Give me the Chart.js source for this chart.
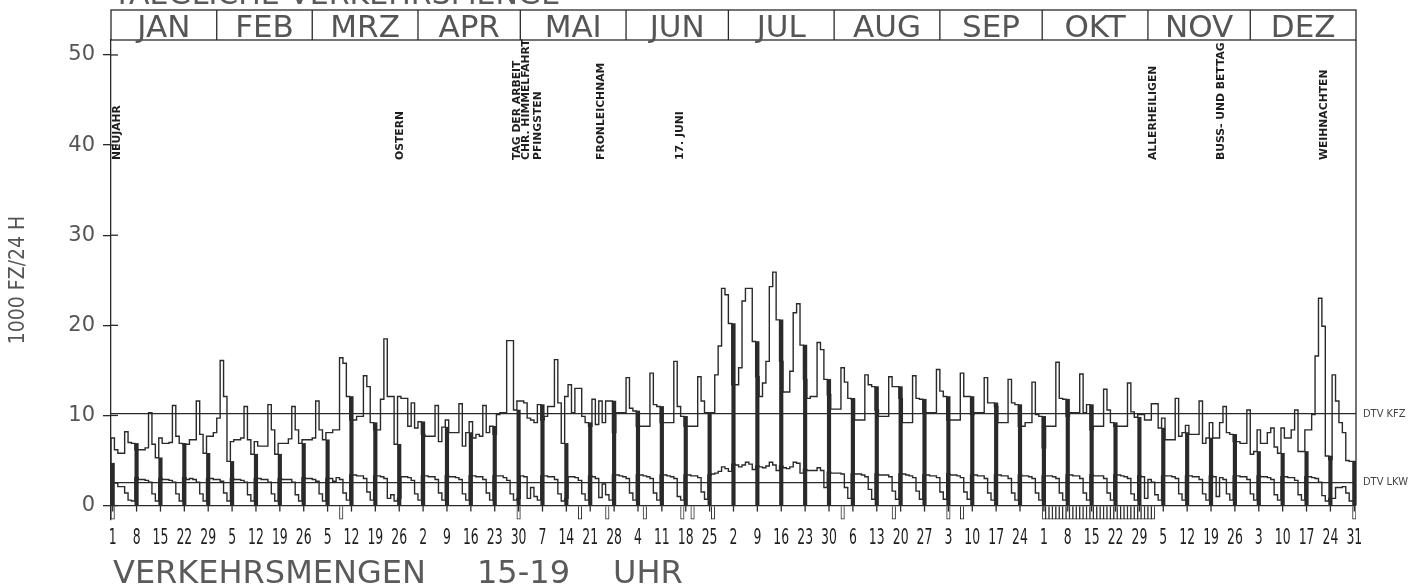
<!DOCTYPE html>
<html>
<head>
<meta charset="utf-8">
<script src="https://cdn.jsdelivr.net/npm/chart.js@4/dist/chart.umd.min.js"></script>
<style>
  html, body { margin: 0; padding: 0; background: #fff; }
  #wrap { width: 1425px; height: 585px; }
</style>
</head>
<body>
<div id="wrap"><canvas id="chart" width="1425" height="585"></canvas></div>
<script>
// --- data (1989, daily values, 1000 vehicles / 24 h) ---
const months = ['JAN', 'FEB', 'MRZ', 'APR', 'MAI', 'JUN', 'JUL', 'AUG', 'SEP', 'OKT', 'NOV', 'DEZ'];
const monthDays = [31, 28, 31, 30, 31, 30, 31, 31, 30, 31, 30, 31];
const weekLabels = ['1', '8', '15', '22', '29', '5', '12', '19', '26', '5', '12', '19', '26',
  '2', '9', '16', '23', '30', '7', '14', '21', '28', '4', '11', '18', '25',
  '2', '9', '16', '23', '30', '6', '13', '20', '27', '3', '10', '17', '24',
  '1', '8', '15', '22', '29', '5', '12', '19', '26', '3', '10', '17', '24', '31'];

// KFZ, one row per week (Sun..Sat)
const kfz = [
  4.7, 7.5, 6.2, 5.8, 5.8, 8.2, 7.0,
  6.9, 6.2, 6.2, 6.2, 6.4, 10.3, 6.8,
  5.3, 7.5, 6.9, 6.9, 7.0, 11.1, 7.7,
  6.9, 6.8, 6.8, 7.3, 7.3, 11.6, 7.9,
  5.8, 7.7, 7.7, 8.1, 9.7, 16.1, 12.1,
  4.9, 7.1, 7.3, 7.3, 7.5, 11.0, 7.3,
  5.7, 7.1, 6.6, 6.6, 6.6, 11.2, 8.4,
  5.7, 6.9, 6.9, 6.9, 7.4, 11.0, 8.4,
  6.9, 7.3, 7.3, 7.3, 7.5, 11.6, 8.4,
  7.3, 8.1, 8.1, 8.4, 8.4, 16.4, 15.8,
  12.1, 9.5, 9.5, 9.9, 9.9, 14.4, 13.2,
  9.2, 8.4, 8.4, 11.8, 18.5, 12.1, 12.1,
  6.8, 12.1, 11.9, 11.9, 8.8, 11.4, 8.6,
  9.3, 7.9, 7.7, 7.7, 7.7, 11.1, 7.1,
  8.7, 9.5, 8.1, 8.1, 8.1, 11.3, 6.6,
  8.1, 9.3, 7.5, 7.9, 7.7, 11.1, 8.1,
  8.8, 7.9, 10.1, 10.3, 10.3, 18.3, 18.3,
  10.6, 11.6, 11.6, 11.4, 9.7, 9.5, 9.2,
  11.2, 9.5, 9.9, 11.0, 11.0, 16.2, 11.4,
  6.9, 12.1, 13.4, 10.3, 13.0, 13.0, 9.9,
  9.2, 8.8, 11.8, 9.0, 11.6, 9.2, 11.6,
  11.6, 8.1, 10.3, 10.3, 10.3, 14.2, 10.8,
  10.5, 8.8, 8.8, 8.8, 8.8, 14.7, 11.2,
  11.0, 9.2, 9.2, 9.2, 9.2, 16.0, 11.0,
  9.9, 8.8, 8.8, 8.8, 8.8, 14.3, 11.6,
  10.3, 10.3, 10.3, 14.5, 17.7, 24.1, 23.4,
  20.2, 13.4, 13.4, 15.3, 22.7, 24.1, 24.1,
  18.2, 14.3, 12.1, 13.6, 16.0, 24.3, 25.9,
  20.6, 16.0, 12.6, 12.6, 14.9, 21.4, 22.4,
  17.8, 14.0, 11.9, 12.1, 12.1, 18.1, 17.3,
  14.0, 12.3, 10.7, 10.7, 10.7, 15.3, 13.7,
  11.9, 11.8, 9.5, 9.5, 9.5, 14.5, 13.4,
  13.2, 10.6, 9.9, 9.9, 9.9, 14.3, 13.2,
  13.2, 11.9, 9.2, 9.2, 9.2, 14.4, 11.9,
  11.8, 10.3, 10.3, 10.3, 10.3, 15.1, 12.7,
  12.1, 9.5, 9.5, 9.5, 9.5, 14.7, 12.1,
  12.1, 10.1, 10.3, 10.3, 10.3, 14.2, 11.4,
  11.4, 11.0, 9.2, 9.2, 9.2, 14.0, 11.4,
  11.2, 8.8, 8.8, 9.2, 9.2, 13.7, 10.1,
  9.9, 6.4, 8.8, 8.8, 8.8, 15.9, 11.9,
  11.8, 9.9, 10.3, 10.3, 10.3, 14.6, 10.3,
  11.2, 8.4, 8.8, 8.8, 8.8, 12.9, 10.6,
  9.2, 8.8, 8.8, 8.8, 8.8, 13.6, 10.4,
  9.8, 10.1, 10.1, 9.5, 9.5, 11.3, 11.3,
  8.6, 9.7, 7.3, 7.3, 7.3, 11.9, 7.7,
  8.1, 8.9, 7.9, 7.9, 7.9, 11.6, 6.9,
  7.5, 9.2, 7.5, 7.5, 9.2, 11.0, 8.1,
  7.9, 7.1, 7.1, 6.9, 6.9, 10.6, 5.7,
  6.0, 8.4, 6.9, 6.9, 8.1, 8.6, 6.5,
  5.8, 8.6, 7.5, 7.5, 8.4, 10.6, 6.0,
  6.0, 8.4, 8.4, 10.1, 16.6, 23.0, 19.9,
  5.5, 5.1, 14.5, 11.6, 9.2, 8.1, 5.0,
  4.9
];

// LKW, one row per week (Sun..Sat)
const lkw = [
  0.4, 2.5, 2.5, 2.1, 2.1, 1.4, 0.6,
  0.5, 3.1, 2.9, 2.9, 2.8, 2.6, 1.3,
  0.5, 3.0, 2.9, 2.9, 2.8, 2.6, 1.3,
  0.5, 3.1, 2.9, 3.0, 2.9, 2.6, 1.3,
  0.5, 3.0, 3.0, 2.9, 2.9, 2.7, 1.4,
  0.5, 3.0, 2.9, 2.9, 2.8, 2.6, 1.2,
  0.5, 3.0, 3.0, 2.9, 2.9, 2.6, 1.3,
  0.5, 3.0, 2.9, 2.9, 2.9, 2.6, 1.2,
  0.5, 3.1, 3.0, 3.0, 2.9, 2.7, 1.3,
  0.5, 3.0, 3.0, 2.7, 3.1, 2.9, 1.4,
  0.6, 3.4, 3.4, 3.3, 3.3, 3.0, 1.5,
  0.6, 3.3, 3.3, 3.2, 3.0, 0.8, 1.2,
  0.5, 0.8, 3.2, 3.2, 3.1, 2.8, 1.3,
  0.6, 3.3, 3.3, 3.2, 3.2, 2.9, 1.4,
  0.6, 3.3, 3.2, 3.2, 3.1, 2.9, 1.3,
  0.6, 3.3, 3.3, 3.2, 3.2, 2.9, 1.4,
  0.6, 3.3, 3.3, 3.3, 3.1, 2.8, 1.3,
  0.6, 0.8, 3.3, 3.2, 0.8, 2.0, 1.0,
  0.6, 3.3, 3.3, 3.2, 3.2, 2.9, 1.3,
  0.5, 0.8, 3.2, 3.2, 3.1, 2.8, 1.3,
  0.6, 3.3, 3.2, 3.0, 0.9, 2.4, 1.2,
  0.6, 3.4, 3.4, 3.3, 3.2, 3.0, 1.4,
  0.6, 3.4, 3.4, 3.3, 3.2, 3.0, 1.4,
  0.6, 3.4, 3.4, 3.3, 3.2, 3.0, 1.0,
  0.6, 3.4, 3.4, 3.3, 3.3, 3.1, 1.5,
  0.7, 3.4, 3.5, 3.6, 3.8, 4.3, 4.1,
  3.8, 4.6, 4.5, 4.3, 4.5, 4.8, 4.6,
  4.0, 4.4, 4.3, 4.2, 4.4, 4.8, 4.5,
  3.9, 4.4, 4.2, 4.1, 4.3, 4.8, 4.7,
  3.6, 4.0, 3.9, 3.9, 3.9, 4.2, 3.9,
  2.0, 3.7, 3.6, 3.6, 3.6, 3.5, 2.0,
  0.8, 3.5, 3.5, 3.5, 3.4, 3.2, 1.8,
  0.7, 3.5, 3.4, 3.4, 3.4, 3.2, 1.6,
  0.7, 3.5, 3.5, 3.4, 3.3, 3.1, 1.6,
  0.7, 3.4, 3.4, 3.3, 3.3, 3.1, 1.5,
  0.7, 3.5, 3.4, 3.4, 3.3, 3.1, 1.5,
  0.7, 3.4, 3.4, 3.3, 3.3, 3.0, 1.4,
  0.6, 3.4, 3.4, 3.3, 3.3, 3.0, 1.4,
  0.6, 3.4, 3.3, 3.3, 3.2, 3.0, 1.4,
  0.6, 3.3, 3.3, 3.3, 3.2, 3.0, 1.4,
  0.6, 3.4, 3.4, 3.3, 3.3, 3.0, 1.4,
  0.6, 3.4, 3.3, 3.3, 3.3, 3.0, 1.4,
  0.6, 3.4, 3.4, 3.3, 3.2, 3.0, 1.3,
  0.6, 3.3, 3.2, 0.8, 2.9, 2.6, 1.2,
  0.6, 3.3, 3.3, 3.3, 3.2, 3.0, 1.3,
  0.6, 3.3, 3.3, 3.2, 3.2, 2.9, 1.3,
  0.6, 3.3, 3.2, 1.0, 3.1, 2.9, 1.3,
  0.6, 3.3, 3.3, 3.2, 3.2, 2.9, 1.3,
  0.6, 3.3, 3.2, 3.2, 3.1, 2.9, 1.2,
  0.6, 3.2, 3.2, 3.1, 3.1, 2.8, 1.2,
  0.6, 3.2, 3.2, 3.1, 3.0, 2.6, 1.1,
  0.5, 0.8, 0.8, 2.0, 2.0, 2.1, 1.4,
  0.5
];

// days (1..365) with a marker below the zero line
const markerDays = [1, 68, 120, 138, 146, 157, 168, 171, 177, 215, 230, 246, 250,
  274, 275, 276, 277, 278, 279, 280, 281, 282, 283, 284, 285, 286, 287, 288, 289, 290,
  291, 292, 293, 294, 295, 296, 297, 298, 299, 300, 301, 302, 303, 304, 305, 306, 365];

const dtvKfz = 10.2;
const dtvLkw = 2.55;

// holiday label, x position in days
const holidays = [
  ['NEUJAHR', 2.0], ['OSTERN', 85.0], ['TAG DER ARBEIT', 119.3], ['CHR. HIMMELFAHRT', 121.7],
  ['PFINGSTEN', 125.2], ['FRONLEICHNAM', 143.7], ['17. JUNI', 167.1],
  ['ALLERHEILIGEN', 305.5], ['BUSS- UND BETTAG', 325.7], ['WEIHNACHTEN', 355.9]
];

// --- build datasets ---
const ink = '#2a2a2a';
const stepPoints = arr => arr.map((v, i) => ({ x: i, y: v })).concat([{ x: arr.length, y: arr[arr.length - 1] }]);
const sundayBars = kfz.map((v, i) => ({ x: i + 0.5, y: v })).filter((p, i) => i % 7 === 0);
const markers = markerDays.map(d => ({ x: d - 0.5, y: [-1.5, 0] }));
const hline = v => [{ x: 0, y: v }, { x: 365, y: v }];

const decor = {
  id: 'decor',
  afterDraw(chart) {
    const { ctx, chartArea: a, scales: { x, y } } = chart;
    ctx.save();
    ctx.strokeStyle = ink;
    ctx.lineWidth = 1.3;

    // month header box
    const hTop = 10;
    ctx.strokeRect(a.left, hTop, a.right - a.left, a.top - hTop);
    let cum = 0;
    ctx.fillStyle = '#555';
    ctx.font = '31px "DejaVu Sans ExtraLight", "DejaVu Sans"';
    ctx.textAlign = 'center';
    ctx.textBaseline = 'alphabetic';
    months.forEach((m, i) => {
      const x0 = x.getPixelForValue(cum);
      const x1 = x.getPixelForValue(cum + monthDays[i]);
      if (i > 0) {
        ctx.beginPath(); ctx.moveTo(x0, hTop); ctx.lineTo(x0, a.top); ctx.stroke();
      }
      ctx.fillText(m, (x0 + x1) / 2, a.top - 3);
      cum += monthDays[i];
    });

    // right border
    ctx.beginPath();
    ctx.moveTo(a.right, a.top);
    ctx.lineTo(a.right, y.getPixelForValue(0));
    ctx.stroke();

    // y ticks crossing into the plot
    y.ticks.forEach(t => {
      const py = y.getPixelForValue(t.value);
      ctx.beginPath(); ctx.moveTo(a.left, py); ctx.lineTo(a.left + 7, py); ctx.stroke();
    });

    // weekly ticks and labels under the zero line
    const y0 = y.getPixelForValue(0);
    ctx.fillStyle = '#1e1e1e';
    ctx.font = '15px "DejaVu Sans Condensed", "DejaVu Sans"';
    ctx.textBaseline = 'middle';
    weekLabels.forEach((lab, i) => {
      const px = x.getPixelForValue(i * 7 + 0.5);
      ctx.beginPath(); ctx.moveTo(px, y0); ctx.lineTo(px, y0 + 6); ctx.stroke();
      ctx.save();
      ctx.translate(px, 538);
      ctx.scale(0.92, 1.45);
      ctx.fillText(lab, 0, 0);
      ctx.restore();
    });

    // holiday labels
    ctx.fillStyle = '#1e1e1e';
    ctx.font = 'bold 12px "DejaVu Sans Condensed", "DejaVu Sans"';
    ctx.textAlign = 'left';
    ctx.textBaseline = 'middle';
    holidays.forEach(([txt, d]) => {
      ctx.save();
      ctx.translate(x.getPixelForValue(d), 160);
      ctx.rotate(-Math.PI / 2);
      ctx.scale(1, 0.8);
      ctx.fillText(txt, 0, 0);
      ctx.restore();
    });

    // DTV labels
    ctx.fillStyle = '#444';
    ctx.font = '11px "DejaVu Sans Condensed", "DejaVu Sans"';
    ctx.fillText('DTV KFZ', a.right + 7, y.getPixelForValue(dtvKfz));
    ctx.fillText('DTV LKW', a.right + 7, y.getPixelForValue(dtvLkw));

    // titles
    ctx.fillStyle = '#5a5a5a';
    ctx.font = '32px "DejaVu Sans ExtraLight", "DejaVu Sans"';
    ctx.textBaseline = 'alphabetic';
    ctx.fillText('VERKEHRSMENGEN', 113, 583);
    ctx.fillText('15-19', 477, 583);
    ctx.fillText('UHR', 613, 583);
    ctx.font = '30px "DejaVu Sans ExtraLight", "DejaVu Sans"';
    ctx.fillText('TAEGLICHE VERKEHRSMENGE', 113, 4);
    ctx.restore();
  }
};

new Chart(document.getElementById('chart'), {
  type: 'line',
  data: {
    datasets: [
      { data: hline(0), borderColor: ink, borderWidth: 1.3, pointRadius: 0 },
      { data: hline(dtvKfz), borderColor: ink, borderWidth: 1.3, pointRadius: 0 },
      { data: hline(dtvLkw), borderColor: ink, borderWidth: 1.3, pointRadius: 0 },
      { data: stepPoints(kfz), stepped: 'after', borderColor: ink, borderWidth: 1.4, pointRadius: 0 },
      { data: stepPoints(lkw), stepped: 'after', borderColor: ink, borderWidth: 1.4, pointRadius: 0 },
      { type: 'bar', data: sundayBars, backgroundColor: ink, barThickness: 3.5, grouped: false },
      { type: 'bar', data: markers, backgroundColor: '#fff', borderColor: ink, borderWidth: 1, barThickness: 3.5, grouped: false }
    ]
  },
  options: {
    responsive: false,
    animation: false,
    devicePixelRatio: 1,
    layout: { padding: { left: 0, right: 69, top: 40, bottom: 0 } },
    plugins: { legend: { display: false }, tooltip: { enabled: false } },
    scales: {
      x: {
        type: 'linear', min: 0, max: 365, offset: false,
        grid: { display: false }, border: { display: false },
        ticks: { display: false },
        afterFit(s) { s.height = 65; }
      },
      y: {
        min: -1.6, max: 51.66,
        ticks: { stepSize: 10, includeBounds: false, color: '#555', padding: 8,
          font: { family: '"DejaVu Sans ExtraLight", "DejaVu Sans"', size: 21 } },
        grid: { drawOnChartArea: false, tickLength: 8, color: ink, lineWidth: 1.3 },
        border: { color: ink, width: 1.3 },
        title: { display: true, text: '1000 FZ/24 H', color: '#555', padding: { top: 6 },
          font: { family: '"DejaVu Sans Condensed", "DejaVu Sans"', size: 21 } },
        afterFit(s) { s.width = 111; }
      }
    }
  },
  plugins: [decor]
});
</script>
</body>
</html>
